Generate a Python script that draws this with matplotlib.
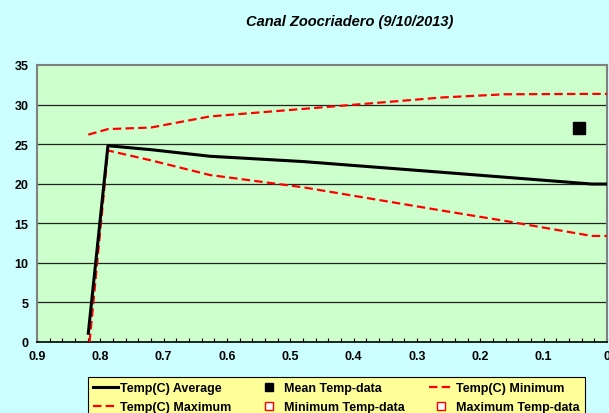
import matplotlib
matplotlib.use("Agg")
import matplotlib.pyplot as plt
from matplotlib.lines import Line2D

# Data
depth = [0.819, 0.788, 0.72, 0.627, 0.48, 0.26, 0.161, 0.024, 0.0]
depth_min = [0.817, 0.788, 0.72, 0.627, 0.48, 0.26, 0.161, 0.024, 0.0]
temp_avg = [1.1, 24.8, 24.3, 23.47, 22.8, 21.44, 20.82, 19.96, 19.96]
temp_min = [0.0, 24.2, 22.95, 21.1, 19.55, 16.6, 15.3, 13.4, 13.4]
temp_max = [26.2, 26.9, 27.1, 28.5, 29.45, 30.9, 31.3, 31.35, 31.35]
mean_data_depth = [0.044]
mean_data_temp = [27.0]

title = "Canal Zoocriadero (9/10/2013)"
x_ticks = [0.9, 0.8, 0.7, 0.6, 0.5, 0.4, 0.3, 0.2, 0.1, 0.0]
x_tick_labels = ["0.9", "0.8", "0.7", "0.6", "0.5", "0.4", "0.3", "0.2", "0.1", "0"]
y_ticks = [0, 5, 10, 15, 20, 25, 30, 35]

plt.rcParams['font.family'] = ['Liberation Sans', 'DejaVu Sans']

fig = plt.figure(figsize=(6.09, 4.14), dpi=100)
fig.patch.set_facecolor('#CCFFFF')
ax = fig.add_axes([37/609, 1 - 343/414, 570/609, 277/414])
ax.set_facecolor('#CCFFCC')

dash = (0, (3.8, 1.9))
ax.plot(depth, temp_avg, color='black', lw=2.2, zorder=4)
ax.plot(depth_min, temp_min, color='#FF0000', lw=1.6, ls=dash, zorder=3)
ax.plot(depth, temp_max, color='#FF0000', lw=1.6, ls=dash, zorder=3)
ax.plot(mean_data_depth, mean_data_temp, ls='none', marker='s', ms=8,
        color='black', zorder=5)

ax.set_xlim(0.9, 0.0)
ax.set_ylim(0, 35)
ax.set_yticks(y_ticks)
ax.set_xticks(x_ticks)
ax.set_xticklabels(x_tick_labels)
ax.set_xticks([0.9 - 0.02 * i for i in range(46)], minor=True)
for y in y_ticks[1:-1]:
    ax.axhline(y, color='#222222', lw=0.9, zorder=1)

ax.tick_params(axis='x', which='both', direction='in', length=3, width=0.8,
               pad=6, labelsize=9)
ax.tick_params(axis='y', length=0, pad=6, labelsize=9)
for lab in ax.get_xticklabels() + ax.get_yticklabels():
    lab.set_fontweight('bold')

for s in ['top', 'left', 'right']:
    ax.spines[s].set_color('#808080')
    ax.spines[s].set_linewidth(1.5)
ax.spines['bottom'].set_color('black')
ax.spines['bottom'].set_linewidth(1.2)

fig.text(350/609, 1 - 22/414, title, ha='center', va='center',
         fontsize=10.5, fontweight='bold', fontstyle='italic')

h_avg = Line2D([], [], color='black', lw=2.2)
h_max = Line2D([], [], color='#FF0000', lw=1.6, ls=dash)
h_min = Line2D([], [], color='#FF0000', lw=1.6, ls=dash)
h_mean = Line2D([], [], ls='none', marker='s', ms=6, color='black')
h_mind = Line2D([], [], ls='none', marker='s', ms=6, mfc='white', mec='#FF0000')
h_maxd = Line2D([], [], ls='none', marker='s', ms=6, mfc='white', mec='#FF0000')
handles = [h_avg, h_max, h_mean, h_mind, h_min, h_maxd]
labels = ["Temp(C) Average", "Temp(C) Maximum", "Mean Temp-data",
          "Minimum Temp-data", "Temp(C) Minimum", "Maximum Temp-data"]
leg = fig.legend(handles, labels, ncol=3, loc='upper left',
                 bbox_to_anchor=(88/609, 1 - 378/414), borderaxespad=0,
                 frameon=True, fancybox=False, edgecolor='black',
                 facecolor='#FFFF99', framealpha=1, borderpad=0.4,
                 labelspacing=0.6, handlelength=2.0, handletextpad=0.2,
                 columnspacing=1.95, prop={'weight': 'bold', 'size': 9})
leg.get_frame().set_linewidth(0.8)

fig.savefig('out.png', dpi=100, facecolor=fig.get_facecolor())
